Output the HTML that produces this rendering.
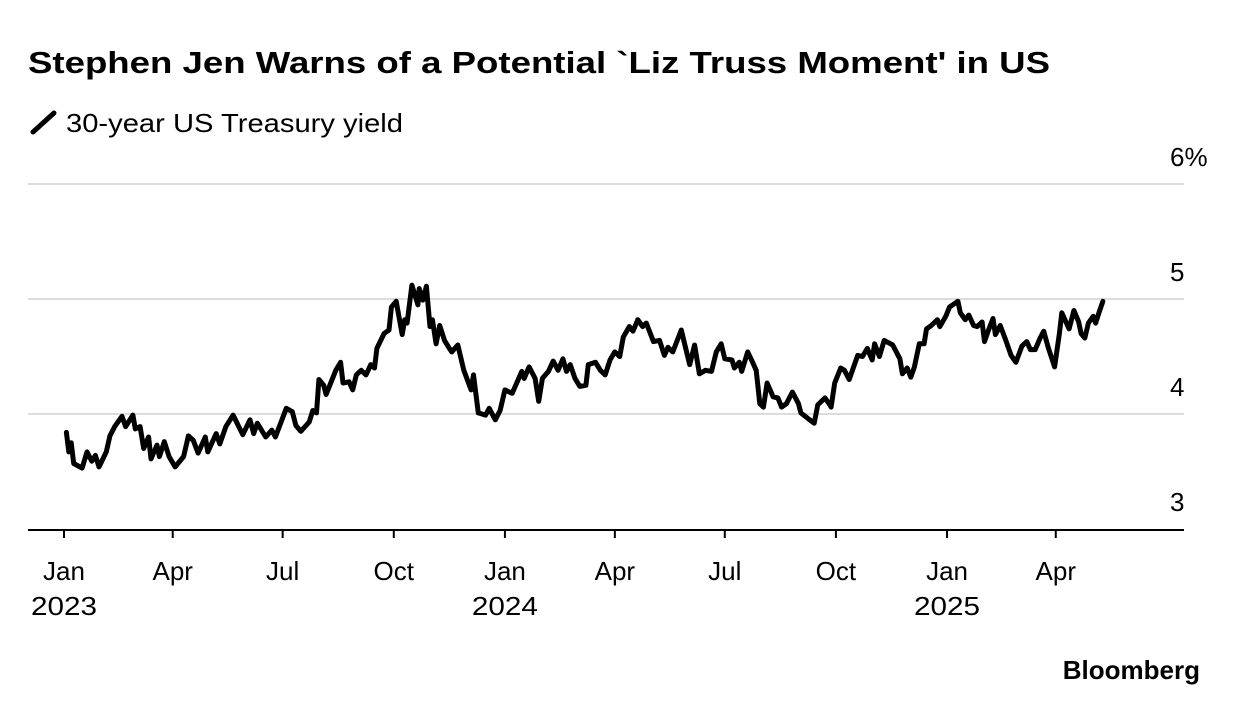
<!DOCTYPE html>
<html><head><meta charset="utf-8"><style>
body{margin:0;background:#fff;width:1240px;height:716px;overflow:hidden;font-family:"Liberation Sans",sans-serif;}
svg{display:block}
</style></head><body>
<svg id="c" width="1240" height="716" font-family="Liberation Sans, sans-serif">
<text x="28" y="73" font-size="31" font-weight="bold" fill="#000" textLength="1022" lengthAdjust="spacingAndGlyphs">Stephen Jen Warns of a Potential `Liz Truss Moment' in US</text>
<line x1="33" y1="132" x2="54" y2="113" stroke="#000" stroke-width="5" stroke-linecap="round"/>
<text x="66" y="132" font-size="26" fill="#000" textLength="337" lengthAdjust="spacingAndGlyphs">30-year US Treasury yield</text>
<g id="grid"></g><g id="xaxis"></g><g id="series"></g>
<text x="1200" y="679" font-size="26" font-weight="bold" text-anchor="end" fill="#000">Bloomberg</text>
</svg>
<script>
const days=[2,4,6,8,15,19,23,26,29,35,38,42,48,51,57,59,63,66,70,72,77,79,83,87,92,99,103,107,111,117,119,126,129,134,140,148,154,157,160,167,172,175,184,189,192,196,203,206,209,211,215,217,220,225,229,231,236,239,242,246,250,254,257,259,265,269,271,275,280,282,284,288,291,293,294,297,300,303,305,308,311,315,319,321,326,331,337,339,343,349,352,357,361,365,371,379,381,385,390,393,396,401,405,409,413,416,419,423,427,432,434,440,444,448,452,456,460,463,468,471,475,479,482,488,493,497,500,504,511,514,518,522,526,531,536,540,544,547,553,555,559,561,566,570,573,576,579,582,587,591,594,598,603,608,610,616,621,624,630,634,635,638,643,646,650,657,661,665,669,671,675,679,686,692,694,698,701,704,708,712,714,718,723,725,730,733,740,742,746,749,753,756,760,762,765,769,771,775,779,784,788,793,797,800,804,808,811,815,820,824,826,832,836,840,842,845,848,852,854,857,860];
const yields=[3.84,3.67,3.75,3.57,3.53,3.67,3.59,3.64,3.54,3.67,3.81,3.89,3.98,3.89,3.99,3.87,3.89,3.70,3.80,3.61,3.73,3.63,3.76,3.63,3.54,3.63,3.81,3.77,3.66,3.80,3.67,3.83,3.74,3.89,3.99,3.82,3.95,3.83,3.92,3.80,3.86,3.80,4.05,4.02,3.90,3.85,3.93,4.03,4.01,4.30,4.25,4.17,4.25,4.38,4.45,4.27,4.28,4.21,4.34,4.38,4.34,4.43,4.40,4.57,4.70,4.73,4.93,4.98,4.69,4.82,4.79,5.12,5.02,4.95,5.09,4.99,5.11,4.76,4.82,4.61,4.77,4.64,4.57,4.54,4.60,4.38,4.21,4.34,4.01,3.99,4.05,3.95,4.03,4.21,4.18,4.37,4.31,4.41,4.31,4.11,4.31,4.37,4.46,4.38,4.48,4.37,4.43,4.31,4.24,4.25,4.43,4.45,4.38,4.34,4.47,4.54,4.50,4.67,4.76,4.72,4.82,4.76,4.79,4.63,4.64,4.51,4.58,4.54,4.73,4.60,4.43,4.60,4.35,4.38,4.37,4.54,4.61,4.48,4.47,4.40,4.45,4.37,4.54,4.45,4.38,4.09,4.06,4.27,4.15,4.14,4.06,4.09,4.19,4.09,4.01,3.96,3.92,4.08,4.14,4.08,4.06,4.27,4.40,4.38,4.30,4.51,4.50,4.57,4.47,4.61,4.50,4.64,4.60,4.48,4.35,4.40,4.32,4.41,4.61,4.61,4.74,4.77,4.82,4.76,4.85,4.93,4.98,4.88,4.82,4.86,4.77,4.76,4.80,4.63,4.72,4.83,4.69,4.77,4.66,4.51,4.45,4.59,4.63,4.56,4.56,4.66,4.72,4.57,4.41,4.70,4.88,4.74,4.90,4.80,4.70,4.66,4.79,4.85,4.79,4.89,4.98];
const yTicks=[3,4,5,6];
const yTickLabels=["3","4","5","6%"];
const xTickDays=[0,90,181,273,365,456,547,639,731,821];
const xTickMonths=["Jan","Apr","Jul","Oct","Jan","Apr","Jul","Oct","Jan","Apr"];
const xTickYears=["2023","","","","2024","","","","2025",""];
const NS="http://www.w3.org/2000/svg";
const X=d=>64+d*1.208, Y=v=>529-(v-3)*115;
const grid=document.getElementById('grid'),xa=document.getElementById('xaxis'),ser=document.getElementById('series');
function mk(tag,at,parent){const e=document.createElementNS(NS,tag);for(const k in at)e.setAttribute(k,at[k]);parent.appendChild(e);return e;}
yTicks.forEach((v,i)=>{
  if(v>3){const l=mk('line',{x1:28,x2:1184,y1:Y(v),y2:Y(v),stroke:'#dcdcdc','stroke-width':2},grid);
  
  }
  const t=mk('text',{x:1170,y:Y(v)-18,'font-size':26,fill:'#000'},grid);
  t.textContent=yTickLabels[i];
  
  
});
const ax=mk('line',{x1:28,x2:1184,y1:530,y2:530,stroke:'#000','stroke-width':2},xa);


xTickDays.forEach((d,i)=>{
  const x=X(d);
  const tk=mk('line',{x1:x,x2:x,y1:530,y2:538,stroke:'#000','stroke-width':2},xa);
  
  
  const t=mk('text',{x:x,y:580,'font-size':26,'text-anchor':'middle',fill:'#000'},xa);
  t.textContent=xTickMonths[i];
  
  
  if(xTickYears[i]){const y=mk('text',{x:x,y:615,'font-size':26,'text-anchor':'middle',fill:'#000','textLength':66,'lengthAdjust':'spacingAndGlyphs'},xa);
  y.textContent=xTickYears[i];
  
  }
});
const p=mk('path',{d:days.map((d,i)=>(i?'L':'M')+X(d).toFixed(1)+','+Y(yields[i]).toFixed(1)).join(''),fill:'none',stroke:'#000','stroke-width':5,'stroke-linejoin':'round','stroke-linecap':'round'},ser);


</script>
</body></html>
